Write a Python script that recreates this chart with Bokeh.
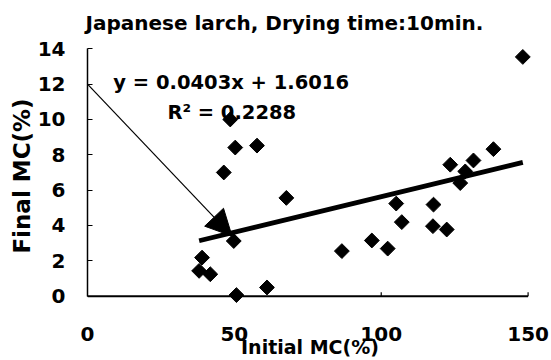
import numpy as np
from bokeh.plotting import figure
from bokeh.models import Range1d, Label, Arrow, NormalHead
from bokeh.embed import file_html
from bokeh.resources import INLINE

# Initial vs. final moisture content (%) of Japanese larch after 10 min drying
initial_mc = [38.0, 39.0, 41.8, 46.4, 48.6, 49.8, 50.3, 50.7, 57.7, 61.1, 67.7,
              86.6, 96.8, 102.2, 105.1, 107.0, 117.6, 117.8, 122.3, 123.5,
              126.9, 128.6, 131.4, 138.2, 148.2]
final_mc = [1.43, 2.18, 1.24, 7.0, 10.0, 3.12, 8.41, 0.06, 8.52, 0.49, 5.56,
            2.55, 3.15, 2.69, 5.24, 4.19, 3.96, 5.18, 3.77, 7.44,
            6.40, 7.06, 7.68, 8.32, 13.54]

# Linear trend line fitted to the data
slope = 0.0403
intercept = 1.6016
r_squared = 0.2288

x_ticks = [0, 50, 100, 150]
y_ticks = [0, 2, 4, 6, 8, 10, 12, 14]

# Callout arrow pointing at the trend line
arrow_from = (0, 12)
arrow_to = (49.2, 3.4)

FONT = "DejaVu Sans"

p = figure(width=551, height=360, output_backend="svg", toolbar_location=None,
           x_range=Range1d(0, 151.5), y_range=Range1d(-0.7, 14.3),
           min_border_left=87, min_border_right=19,
           min_border_top=43, min_border_bottom=51)
p.outline_line_color = None
p.grid.visible = False
p.background_fill_color = "white"
p.border_fill_color = "white"

p.title.text = "Japanese larch, Drying time:10min."
p.title.text_font = FONT
p.title.text_font_size = "20px"
p.title.text_font_style = "bold"
p.title.text_color = "black"
p.title.align = "left"
p.title.offset = -2
p.title.standoff = 14
p.title.vertical_align = "top"

# y axis: inward ticks, line only between 0 and 14
ya = p.yaxis[0]
ya.ticker = y_ticks
ya.bounds = (y_ticks[0], y_ticks[-1])
ya.axis_line_width = 1.5
ya.axis_line_color = "black"
ya.major_tick_in = 5
ya.major_tick_out = 0
ya.major_tick_line_width = 1.2
ya.minor_tick_line_color = None
ya.major_label_standoff = 22
ya.major_label_text_font = FONT
ya.major_label_text_font_size = "20px"
ya.major_label_text_font_style = "bold"
ya.major_label_text_color = "black"
ya.axis_label = "Final MC(%)"
ya.axis_label_text_font = FONT
ya.axis_label_text_font_size = "23px"
ya.axis_label_text_font_style = "bold"
ya.axis_label_text_color = "black"
ya.axis_label_standoff = 0

# x axis: labels only; the axis line is drawn at y = 0 below
xa = p.xaxis[0]
xa.ticker = x_ticks
xa.axis_line_color = None
xa.major_tick_line_color = None
xa.major_tick_in = 0
xa.major_tick_out = 0
xa.minor_tick_line_color = None
xa.major_label_standoff = 18
xa.major_label_text_font = FONT
xa.major_label_text_font_size = "20px"
xa.major_label_text_font_style = "bold"
xa.major_label_text_color = "black"
xa.axis_label = "Initial MC(%)"
xa.axis_label_text_font = FONT
xa.axis_label_text_font_size = "19px"
xa.axis_label_text_font_style = "bold"
xa.axis_label_text_color = "black"
xa.axis_label_standoff = -8

p.segment(x0=[x_ticks[0]], y0=[0], x1=[x_ticks[-1]], y1=[0],
          line_color="black", line_width=2)
p.segment(x0=x_ticks[1:], y0=[0] * 3, x1=x_ticks[1:], y1=[0.22] * 3,
          line_color="black", line_width=1.2)

# data points
p.scatter(initial_mc, final_mc, marker="square", angle=np.pi / 4, size=10.5,
          fill_color="black", line_color="black")

# trend line across the data extent
tx = np.array([min(initial_mc), max(initial_mc)])
p.line(tx, slope * tx + intercept, line_color="black", line_width=4.8)

p.add_layout(Arrow(end=NormalHead(size=26, fill_color="black", line_color="black"),
                   x_start=arrow_from[0], y_start=arrow_from[1],
                   x_end=arrow_to[0], y_end=arrow_to[1],
                   line_color="black", line_width=1.2))

p.add_layout(Label(x=8.8, y=12.1, text=f"y = {slope}x + {intercept}",
                   text_font=FONT, text_font_size="19.5px", text_font_style="bold",
                   text_color="black", text_baseline="alphabetic"))
p.add_layout(Label(x=27.2, y=10.42, text=f"R² = {r_squared}",
                   text_font=FONT, text_font_size="19.5px", text_font_style="bold",
                   text_color="black", text_baseline="alphabetic"))

open("out.html", "w").write(file_html(p, INLINE))
